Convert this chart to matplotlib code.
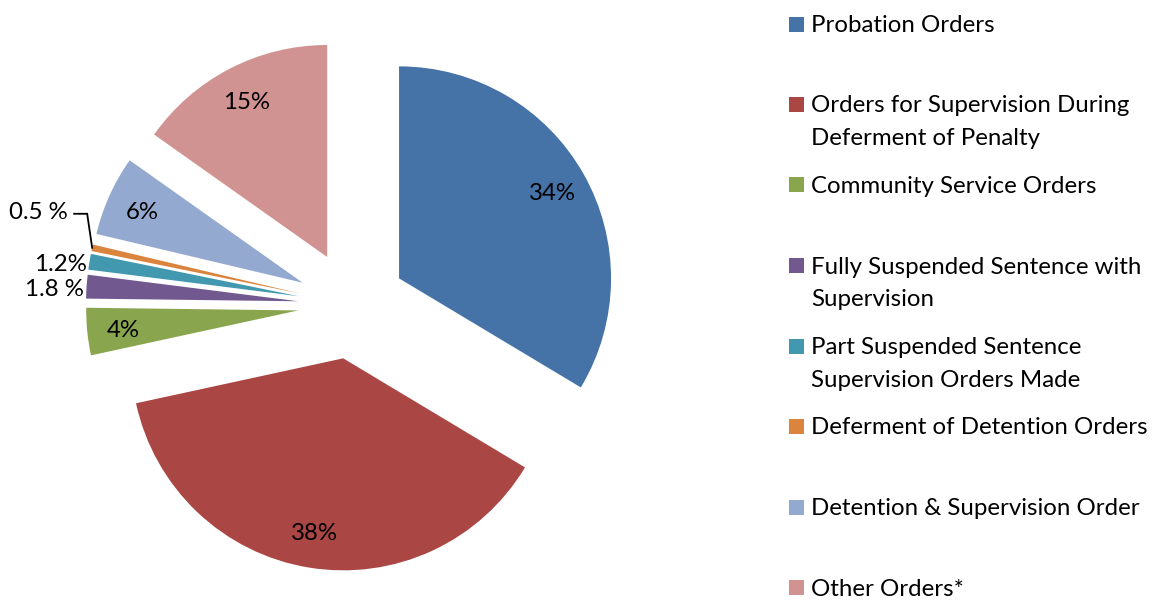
import numpy as np
import matplotlib
matplotlib.use("Agg")
import matplotlib.pyplot as plt
from matplotlib.patches import Rectangle

plt.rcParams['font.family'] = ['Lato', 'DejaVu Sans']

categories = ["Probation Orders",
              "Orders for Supervision During\nDeferment of Penalty",
              "Community Service Orders",
              "Fully Suspended Sentence with\nSupervision",
              "Part Suspended Sentence\nSupervision Orders Made",
              "Deferment of Detention Orders",
              "Detention & Supervision Order",
              "Other Orders*"]
# shares (labels are the rounded figures shown)
values = [33.6, 38.0, 3.6, 1.8, 1.2, 0.5, 6.1, 15.2]
pct_labels = ["34%", "38%", "4%", "1.8 %", "1.2%", "0.5 %", "6%", "15%"]
colors = ["#4572A7", "#AA4643", "#89A54E", "#71588F", "#4198AF", "#DB843D", "#93A9CF", "#D19392"]

W, H, DPI = 1157, 601, 100
fig = plt.figure(figsize=(W / DPI, H / DPI), dpi=DPI)
ax = fig.add_axes([0, 0, 1, 1])

R_PX = 212.0           # pie radius in pixels
CX, CY = 352.0, 305.0  # pie centre (pixels from top-left)
EXPL = 0.255
FS = 17.3
U = 1 / R_PX           # one pixel in data units

wedges, _ = ax.pie(values, colors=colors, startangle=90, counterclock=False,
                   explode=[EXPL] * len(values), radius=1.0,
                   wedgeprops=dict(linewidth=0))
ax.set_aspect('auto')
ax.set_xlim(-CX / R_PX, (W - CX) / R_PX)
ax.set_ylim(-(H - CY) / R_PX, CY / R_PX)
ax.axis('off')

small = {3, 4, 5}
for i, w in enumerate(wedges):
    th = np.deg2rad((w.theta1 + w.theta2) / 2)
    d = np.array([np.cos(th), np.sin(th)])
    apex = EXPL * d
    if i not in small:
        p = apex + 0.83 * d
        ax.text(p[0], p[1], pct_labels[i], ha='center', va='center_baseline',
                fontsize=FS, color='black')
    else:
        edge = apex + 1.0 * d
        if i == 5:
            q = edge + np.array([-5 * U, 34 * U])
            r = q + np.array([-13 * U, 0])
            ax.plot([edge[0], q[0], r[0]], [edge[1], q[1], r[1]], color='black', lw=1.3,
                    solid_joinstyle='miter')
            ax.text(r[0] - 6 * U, r[1] + 3 * U, pct_labels[i], ha='right',
                    va='center_baseline', fontsize=FS, color='black')
        else:
            ax.text(edge[0] - 3 * U, edge[1] - 1 * U, pct_labels[i], ha='right',
                    va='center_baseline', fontsize=FS, color='black')

# legend
sq = 15
for i, (lab, c) in enumerate(zip(categories, colors)):
    y = 24 + 80.5 * i
    fig.patches.append(Rectangle((789 / W, 1 - (y + sq / 2) / H), sq / W, sq / H,
                                 transform=fig.transFigure, facecolor=c, edgecolor='none'))
    fig.text(811 / W, 1 - (y - 9) / H, lab, ha='left', va='top', fontsize=FS,
             linespacing=1.68, color='black')

fig.savefig("out.png", dpi=DPI)
